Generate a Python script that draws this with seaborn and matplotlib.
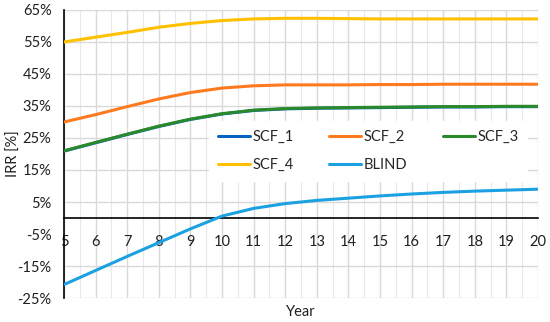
import pandas as pd
import numpy as np
import matplotlib
matplotlib.use('Agg')
import matplotlib.pyplot as plt
from matplotlib.ticker import FuncFormatter, MultipleLocator
import seaborn as sns

# Data (IRR in %)
years = list(range(5, 21))
scf_1 = [20.9, 23.5, 26.1, 28.6, 30.8, 32.5, 33.6, 34.1, 34.3, 34.4, 34.5, 34.6, 34.7, 34.7, 34.8, 34.8]
scf_2 = [30.0, 32.3, 34.8, 37.2, 39.2, 40.6, 41.3, 41.6, 41.6, 41.6, 41.7, 41.7, 41.8, 41.8, 41.8, 41.8]
scf_3 = [21.0, 23.6, 26.2, 28.7, 30.9, 32.6, 33.7, 34.2, 34.4, 34.5, 34.6, 34.7, 34.8, 34.8, 34.9, 34.9]
scf_4 = [55.0, 56.5, 58.0, 59.6, 60.8, 61.7, 62.2, 62.4, 62.4, 62.3, 62.2, 62.2, 62.2, 62.2, 62.2, 62.2]
blind = [-20.8, -16.4, -12.0, -7.7, -3.4, 0.6, 3.0, 4.5, 5.5, 6.2, 6.9, 7.5, 8.0, 8.4, 8.7, 9.0]

series = {'SCF_1': scf_1, 'SCF_2': scf_2, 'SCF_3': scf_3, 'SCF_4': scf_4, 'BLIND': blind}
colors = {'SCF_1': '#0563C1', 'SCF_2': '#FF7A1F', 'SCF_3': '#2A8A2A',
          'SCF_4': '#FFC000', 'BLIND': '#1BA1E2'}

df = pd.DataFrame([(s, y, v) for s, vals in series.items() for y, v in zip(years, vals)],
                  columns=['Series', 'Year', 'IRR'])

sns.set_style('white')
plt.rcParams['font.family'] = ['Lato', 'DejaVu Sans']

fig = plt.figure(figsize=(5.5, 3.22), dpi=100)
ax = fig.add_axes([0.1164, 0.0745, 0.8618, 0.8945])

sns.lineplot(data=df, x='Year', y='IRR', hue='Series', palette=colors,
             hue_order=list(series.keys()), linewidth=2.2, ax=ax, legend=True, zorder=3)

ax.set_xlim(5, 20)
ax.set_ylim(-25, 65)
ax.set_xticks(years)
ax.xaxis.set_minor_locator(MultipleLocator(0.5))
ax.set_yticks(np.arange(-25, 66, 10))
ax.yaxis.set_major_formatter(FuncFormatter(lambda v, p: '%d%%' % v))

# gridlines
ax.grid(True, which='major', color='#D9D9D9', linewidth=1.0, zorder=0)
ax.grid(True, which='minor', axis='x', color='#E8E8E8', linewidth=0.8, zorder=0)
ax.yaxis.get_gridlines()[2].set_visible(False)
ax.set_axisbelow(True)

# axes: left black spine, x axis at zero
for s in ['top', 'right']:
    ax.spines[s].set_visible(False)
ax.spines['left'].set_color('black')
ax.spines['left'].set_linewidth(1.2)
ax.spines['bottom'].set_position(('data', 0))
ax.spines['bottom'].set_color('black')
ax.spines['bottom'].set_linewidth(1.2)
ax.spines['bottom'].set_zorder(2)
ax.tick_params(axis='both', which='both', length=0, labelsize=10.5, colors='#202020')
ax.tick_params(axis='x', pad=12)
ax.tick_params(axis='y', pad=9)

ax.set_xlabel('Year', fontsize=10.5, color='#202020')
ax.set_ylabel('IRR [%]', fontsize=10.5, color='#202020')
ax.xaxis.set_label_coords(0.5, -0.025)
ax.yaxis.set_label_coords(-0.092, 0.5)

# legend laid out row by row: SCF_1 SCF_2 SCF_3 / SCF_4 BLIND
handles, labels = ax.get_legend_handles_labels()
lookup = dict(zip(labels, handles))
order = ['SCF_1', 'SCF_4', 'SCF_2', 'BLIND', 'SCF_3']
leg = ax.legend([lookup[k] for k in order], order, loc='center',
                bbox_to_anchor=(0.642, 0.51), ncol=3, frameon=True,
                fontsize=10.5, handlelength=2.2, columnspacing=2.45,
                borderpad=0.6, labelspacing=0.95, handletextpad=0.15)
leg.get_frame().set_facecolor('white')
leg.get_frame().set_edgecolor('white')
leg.get_frame().set_alpha(1)
leg.set_zorder(4)

fig.savefig('out.png', dpi=100)
